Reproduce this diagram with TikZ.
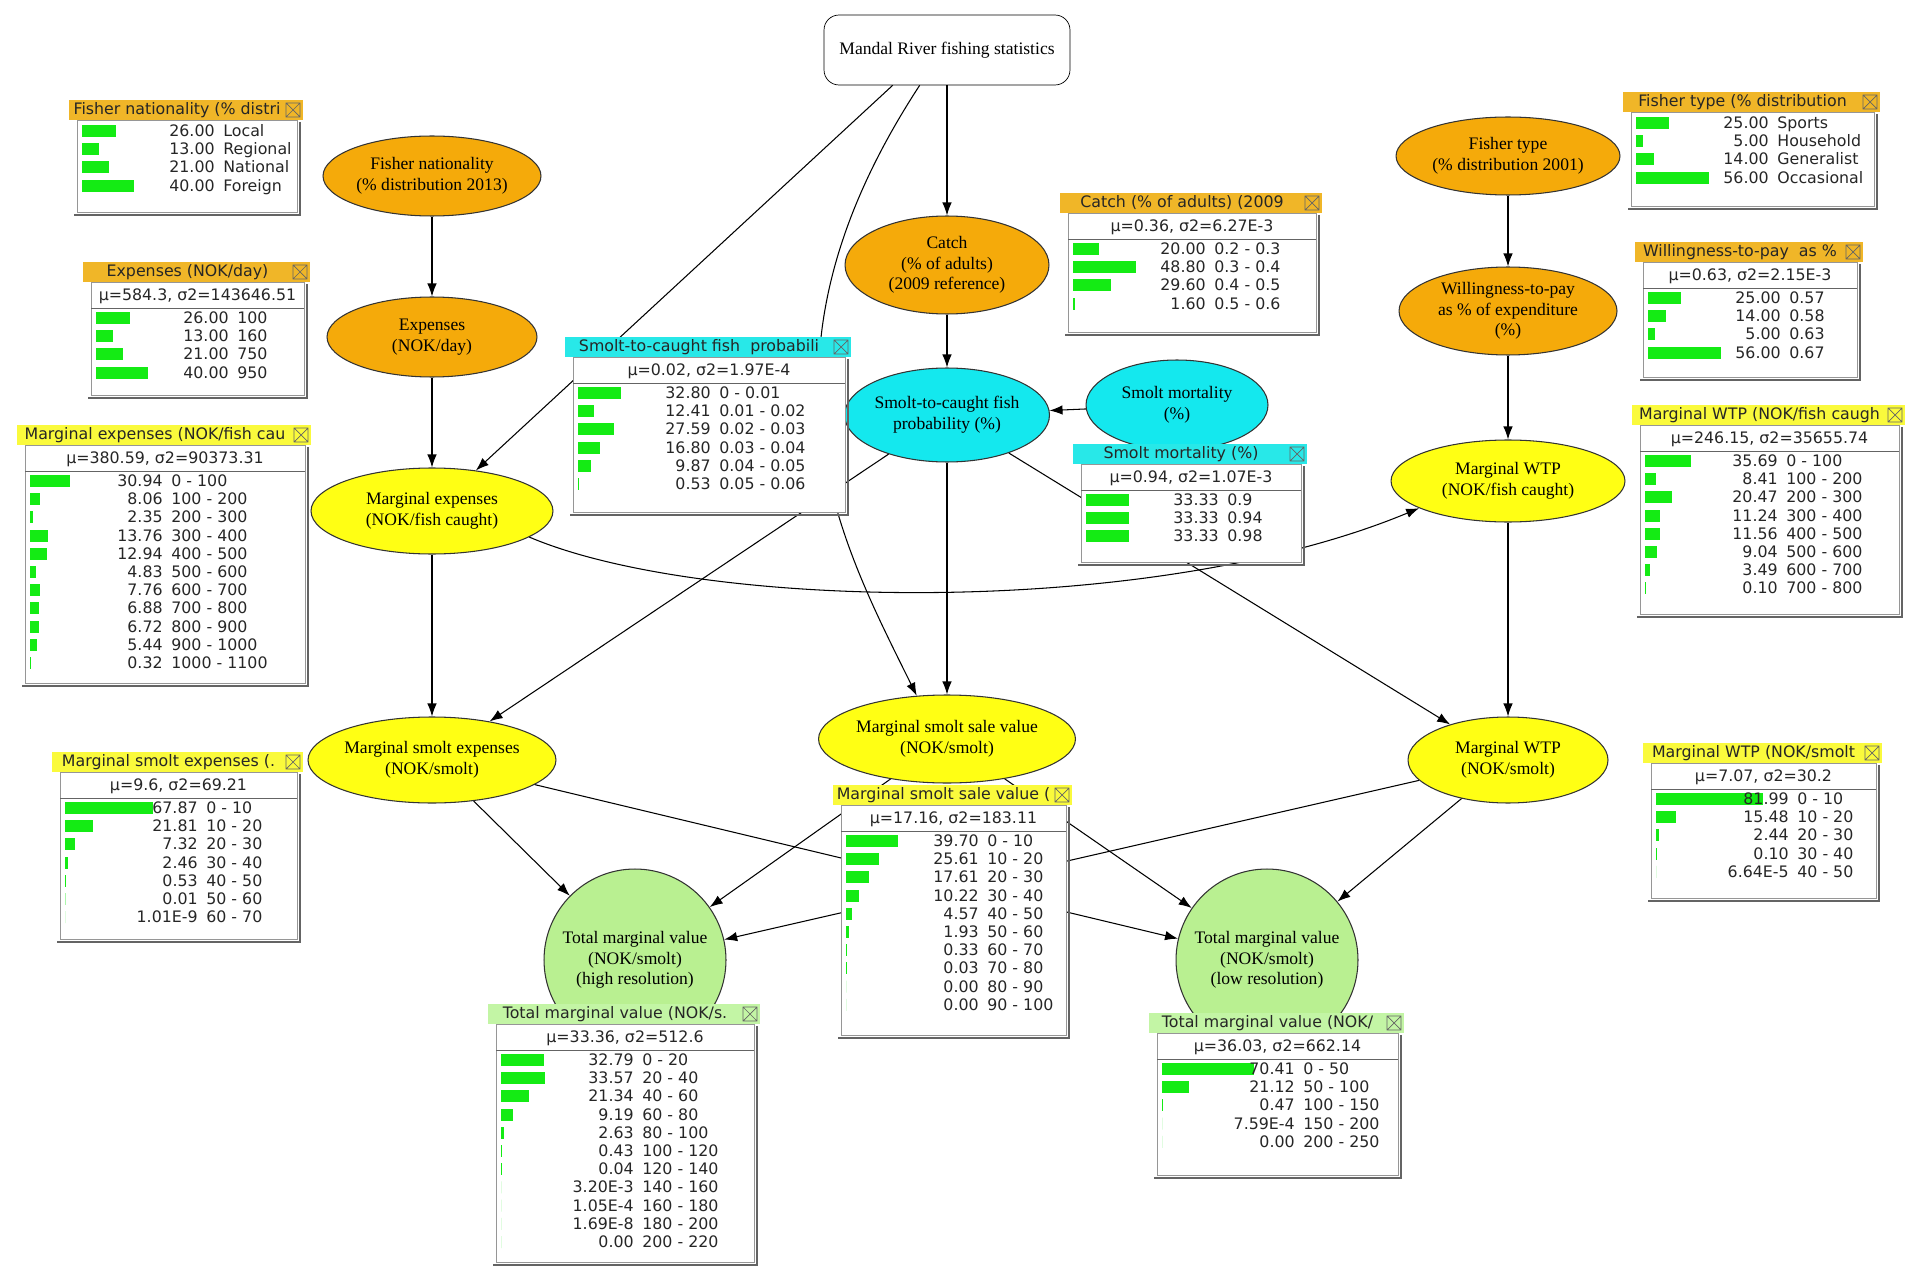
\documentclass[tikz,border=0pt]{standalone}
\usepackage{fontspec}
\setmainfont{Liberation Serif}
\newfontfamily\monfont{DejaVu Sans}
\usetikzlibrary{arrows.meta,shapes.geometric}
\definecolor{NodeOrange}{RGB}{245,170,10}
\definecolor{HeadOrange}{RGB}{240,182,40}
\definecolor{NodeYellow}{RGB}{255,255,20}
\definecolor{HeadYellow}{RGB}{250,250,60}
\definecolor{NodeCyan}{RGB}{20,232,238}
\definecolor{HeadCyan}{RGB}{40,232,232}
\definecolor{NodeGreen}{RGB}{185,240,145}
\definecolor{HeadGreen}{RGB}{195,245,165}
\definecolor{BarGreen}{RGB}{20,235,20}
\definecolor{FrameGrey}{RGB}{150,150,150}
\definecolor{ShadowGrey}{RGB}{100,100,100}
% x, y, width, height, colour, title, stats line, bars
\newcommand{\monitor}[8]{%
  \fill[#5] (#1,#2) rectangle ({#1+#3},{#2+20});
  \node[montext] at ({#1+(#3-18)/2},{#2+10}) {#6};
  \draw[ShadowGrey] ({#1+#3-17},{#2+3}) rectangle ({#1+#3-3},{#2+17})
    ({#1+#3-17},{#2+3}) -- ({#1+#3-3},{#2+17}) ({#1+#3-3},{#2+3}) -- ({#1+#3-17},{#2+17});
  \draw[FrameGrey,fill=white] ({#1+8},{#2+20}) rectangle ({#1+#3-6},{#2+#4-6});
  \draw[ShadowGrey,line width=1pt] ({#1+#3-3},{#2+22}) -- ({#1+#3-3},{#2+#4-3}) -- ({#1+5},{#2+#4-3});
  \if\relax\detokenize{#7}\relax
    \def\rowtop{#2+31}%
  \else
    \node[montext] at ({#1+#3/2+1},{#2+34}) {#7};
    \draw[ShadowGrey] ({#1+8},{#2+46}) -- ({#1+#3-6},{#2+46});
    \def\rowtop{#2+56}%
  \fi
  \foreach \pc/\val/\lab [count=\i from 0] in {#8} {
    \fill[BarGreen] ({#1+13},{\rowtop+18.2*\i-6}) rectangle ++({1.3*\pc},12);
    \node[montext,anchor=base east] at ({#1+146},{\rowtop+18.2*\i+5.5}) {\val};
    \node[montext,anchor=base west] at ({#1+154},{\rowtop+18.2*\i+5.5}) {\lab};
  }}

\begin{document}
\begin{tikzpicture}[x=0.02cm,y=-0.02cm,
  montext/.style={font=\monfont\fontsize{9}{10}\selectfont,inner sep=0pt,text=black!85},
  oval/.style={ellipse,draw=black!80,line width=0.6pt,inner sep=0pt,align=center,
    font=\fontsize{10}{11.8}\selectfont},
  link/.style={-{Latex[length=2.6mm,width=1.9mm]},line width=0.6pt}]
  \fill[white] (0,0) rectangle (1906,1270);
  \useasboundingbox (0,0) rectangle (1906,1270);

  \node[draw,fill=white,rounded corners=0.3cm,minimum width=4.92cm,minimum height=1.4cm,
    font=\fontsize{10}{12}\selectfont] (stats) at (947,50) {Mandal River fishing statistics};

  \node[oval,fill=NodeOrange,minimum width=4.36cm,minimum height=1.6cm] (nation) at (432,176) {Fisher nationality\\(\% distribution 2013)};
  \node[oval,fill=NodeOrange,minimum width=4.2cm,minimum height=1.6cm] (expenses) at (432,337) {Expenses\\(NOK/day)};
  \node[oval,fill=NodeYellow,minimum width=4.84cm,minimum height=1.72cm] (margexp) at (432,511) {Marginal expenses\\(NOK/fish caught)};
  \node[oval,fill=NodeYellow,minimum width=4.88cm,minimum height=1.72cm] (smoltexp) at (432,760) {Marginal smolt expenses\\(NOK/smolt)};

  \node[oval,fill=NodeOrange,minimum width=4.08cm,minimum height=1.96cm] (catch) at (947,265) {Catch\\(\% of adults)\\(2009 reference)};
  \node[oval,fill=NodeCyan,minimum width=3.76cm,minimum height=1.88cm] (stcprob) at (947,415) {Smolt-to-caught fish\\probability (\%)};
  \node[oval,fill=NodeCyan,minimum width=3.64cm,minimum height=1.8cm] (mortality) at (1177,405) {Smolt mortality\\(\%)};
  \node[oval,fill=NodeYellow,minimum width=5cm,minimum height=1.76cm] (saleval) at (947,739) {Marginal smolt sale value\\(NOK/smolt)};

  \node[oval,fill=NodeOrange,minimum width=4.48cm,minimum height=1.56cm] (ftype) at (1508,156) {Fisher type\\(\% distribution 2001)};
  \node[oval,fill=NodeOrange,minimum width=4.36cm,minimum height=1.76cm] (wtpshare) at (1508,311) {Willingness-to-pay\\as \% of expenditure\\(\%)};
  \node[oval,fill=NodeYellow,minimum width=4.68cm,minimum height=1.64cm] (wtpfish) at (1508,481) {Marginal WTP\\(NOK/fish caught)};
  \node[oval,fill=NodeYellow,minimum width=4cm,minimum height=1.72cm] (wtpsmolt) at (1508,760) {Marginal WTP\\(NOK/smolt)};

  \node[oval,circle,fill=NodeGreen,minimum size=3.64cm] (totalhigh) at (635,960) {Total marginal value\\(NOK/smolt)\\(high resolution)};
  \node[oval,circle,fill=NodeGreen,minimum size=3.64cm] (totallow) at (1267,960) {Total marginal value\\(NOK/smolt)\\(low resolution)};

  % links
  \draw[link] (stats) -- (catch);
  \draw[link] ([xshift=1.38cm]stats.south west) -- (margexp);
  \draw[link] ([xshift=1.92cm]stats.south west) .. controls (740,360) and (840,540) .. (saleval.125);
  \draw[link] (nation) -- (expenses);
  \draw[link] (expenses) -- (margexp);
  \draw[link] (margexp) -- (smoltexp);
  \draw[link] (margexp.-15) .. controls (700,610) and (1150,620) .. (wtpfish.197);
  \draw[link] (catch) -- (stcprob);
  \draw[link] (mortality) -- (stcprob);
  \draw[link] (stcprob) -- (saleval);
  \draw[link] (stcprob) -- (smoltexp);
  \draw[link] (stcprob) -- (wtpsmolt);
  \draw[link] (ftype) -- (wtpshare);
  \draw[link] (wtpshare) -- (wtpfish);
  \draw[link] (wtpfish) -- (wtpsmolt);
  \draw[link] (smoltexp) -- (totalhigh);
  \draw[link] (smoltexp) -- (totallow);
  \draw[link] (saleval) -- (totalhigh);
  \draw[link] (saleval) -- (totallow);
  \draw[link] (wtpsmolt) -- (totalhigh);
  \draw[link] (wtpsmolt) -- (totallow);

  % monitors
  \monitor{69}{100}{234}{118}{HeadOrange}{Fisher nationality (\% distri}{}
    {26/26.00/Local, 13/13.00/Regional, 21/21.00/National, 40/40.00/Foreign}
  \monitor{83}{262}{227}{139}{HeadOrange}{Expenses (NOK/day)}{μ=584.3, σ2=143646.51}
    {26/26.00/100, 13/13.00/160, 21/21.00/750, 40/40.00/950}
  \monitor{17}{425}{294}{264}{HeadYellow}{Marginal expenses (NOK/fish cau}{μ=380.59, σ2=90373.31}
    {30.94/30.94/0 - 100, 8.06/8.06/100 - 200, 2.35/2.35/200 - 300, 13.76/13.76/300 - 400,
     12.94/12.94/400 - 500, 4.83/4.83/500 - 600, 7.76/7.76/600 - 700, 6.88/6.88/700 - 800,
     6.72/6.72/800 - 900, 5.44/5.44/900 - 1000, 0.32/0.32/1000 - 1100}
  \monitor{52}{752}{251}{193}{HeadYellow}{Marginal smolt expenses (.}{μ=9.6, σ2=69.21}
    {67.87/67.87/0 - 10, 21.81/21.81/10 - 20, 7.32/7.32/20 - 30, 2.46/2.46/30 - 40,
     0.53/0.53/40 - 50, 0.01/0.01/50 - 60, 0/1.01E-9/60 - 70}
  \monitor{565}{337}{286}{181}{HeadCyan}{Smolt-to-caught fish\ \ probabili}{μ=0.02, σ2=1.97E-4}
    {32.80/32.80/0 - 0.01, 12.41/12.41/0.01 - 0.02, 27.59/27.59/0.02 - 0.03,
     16.80/16.80/0.03 - 0.04, 9.87/9.87/0.04 - 0.05, 0.53/0.53/0.05 - 0.06}
  \monitor{1060}{193}{262}{145}{HeadOrange}{Catch (\% of adults) (2009}{μ=0.36, σ2=6.27E-3}
    {20/20.00/0.2 - 0.3, 48.80/48.80/0.3 - 0.4, 29.60/29.60/0.4 - 0.5, 1.60/1.60/0.5 - 0.6}
  \monitor{1073}{444}{234}{124}{HeadCyan}{Smolt mortality (\%)}{μ=0.94, σ2=1.07E-3}
    {33.33/33.33/0.9, 33.33/33.33/0.94, 33.33/33.33/0.98}
  \monitor{1623}{92}{257}{120}{HeadOrange}{Fisher type (\% distribution}{}
    {25/25.00/Sports, 5/5.00/Household, 14/14.00/Generalist, 56/56.00/Occasional}
  \monitor{1635}{242}{228}{141}{HeadOrange}{Willingness-to-pay\ \ as \%}{μ=0.63, σ2=2.15E-3}
    {25/25.00/0.57, 14/14.00/0.58, 5/5.00/0.63, 56/56.00/0.67}
  \monitor{1632}{405}{273}{215}{HeadYellow}{Marginal WTP (NOK/fish caugh}{μ=246.15, σ2=35655.74}
    {35.69/35.69/0 - 100, 8.41/8.41/100 - 200, 20.47/20.47/200 - 300, 11.24/11.24/300 - 400,
     11.56/11.56/400 - 500, 9.04/9.04/500 - 600, 3.49/3.49/600 - 700, 0.10/0.10/700 - 800}
  \monitor{1643}{743}{239}{161}{HeadYellow}{Marginal WTP (NOK/smolt}{μ=7.07, σ2=30.2}
    {81.99/81.99/0 - 10, 15.48/15.48/10 - 20, 2.44/2.44/20 - 30, 0.10/0.10/30 - 40, 0/6.64E-5/40 - 50}
  \monitor{833}{785}{239}{256}{HeadYellow}{Marginal smolt sale value (}{μ=17.16, σ2=183.11}
    {39.70/39.70/0 - 10, 25.61/25.61/10 - 20, 17.61/17.61/20 - 30, 10.22/10.22/30 - 40,
     4.57/4.57/40 - 50, 1.93/1.93/50 - 60, 0.33/0.33/60 - 70, 0.03/0.03/70 - 80,
     0/0.00/80 - 90, 0/0.00/90 - 100}
  \monitor{488}{1004}{272}{264}{HeadGreen}{Total marginal value (NOK/s.}{μ=33.36, σ2=512.6}
    {32.79/32.79/0 - 20, 33.57/33.57/20 - 40, 21.34/21.34/40 - 60, 9.19/9.19/60 - 80,
     2.63/2.63/80 - 100, 0.43/0.43/100 - 120, 0.04/0.04/120 - 140, 0/3.20E-3/140 - 160,
     0/1.05E-4/160 - 180, 0/1.69E-8/180 - 200, 0/0.00/200 - 220}
  \monitor{1149}{1013}{255}{168}{HeadGreen}{Total marginal value (NOK/}{μ=36.03, σ2=662.14}
    {70.41/70.41/0 - 50, 21.12/21.12/50 - 100, 0.47/0.47/100 - 150, 0/7.59E-4/150 - 200,
     0/0.00/200 - 250}
\end{tikzpicture}
\end{document}
